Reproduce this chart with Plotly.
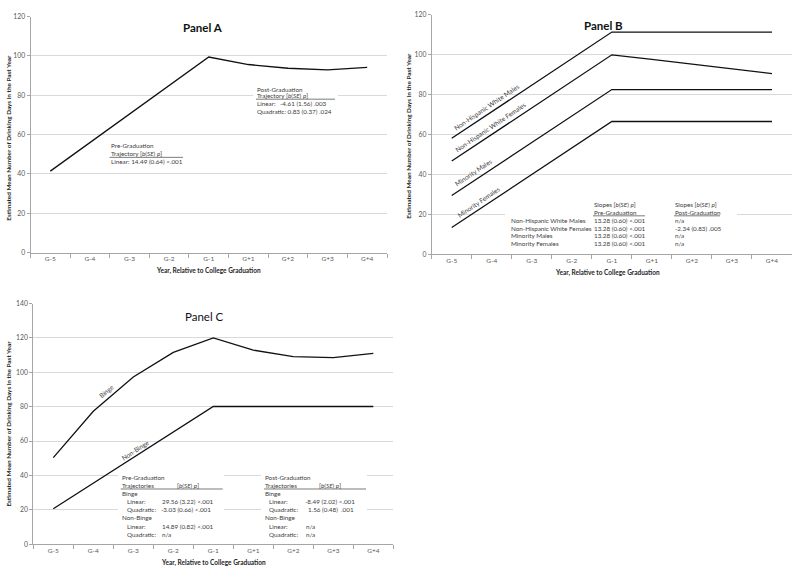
import plotly.graph_objects as go

W, H = 800, 577

years = ["G-5", "G-4", "G-3", "G-2", "G-1", "G+1", "G+2", "G+3", "G+4"]

panel_a = [41.4, 55.9, 70.4, 84.9, 99.4, 95.6, 93.7, 92.9, 94.2]

nhw_males = [58.2, 71.5, 84.8, 98.1, 111.4, 111.4, 111.4, 111.4, 111.4]
nhw_females = [46.8, 60.1, 73.4, 86.7, 100.0, 97.7, 95.3, 93.0, 90.6]
min_males = [29.5, 42.8, 56.1, 69.3, 82.6, 82.6, 82.6, 82.6, 82.6]
min_females = [13.5, 26.8, 40.1, 53.3, 66.6, 66.6, 66.6, 66.6, 66.6]

binge = [50.4, 77.3, 97.3, 111.6, 120.0, 112.9, 109.1, 108.5, 111.0]
non_binge = [20.6, 35.4, 50.3, 65.2, 80.1, 80.1, 80.1, 80.1, 80.1]

y_ticks_ab = [0, 20, 40, 60, 80, 100, 120]
y_ticks_c = [0, 20, 40, 60, 80, 100, 120, 140]

FONT = "Lato"
TXT = "#404040"
TICK = "#595959"
AXIS = "#a6a6a6"
GRID = "#d9d9d9"
SMALL = 6.3


def px(x):
    return x / W


def py(y):
    return (H - y) / H


fig = go.Figure()

line_style = dict(color="#111111", width=1.3)
fig.add_trace(go.Scatter(x=years, y=panel_a, mode="lines", line=line_style,
                         xaxis="x", yaxis="y", showlegend=False))
for s in [nhw_males, nhw_females, min_males, min_females]:
    fig.add_trace(go.Scatter(x=years, y=s, mode="lines", line=line_style,
                             xaxis="x2", yaxis="y2", showlegend=False))
for s in [binge, non_binge]:
    fig.add_trace(go.Scatter(x=years, y=s, mode="lines", line=line_style,
                             xaxis="x3", yaxis="y3", showlegend=False))


def xax(domain, anchor):
    return dict(domain=domain, anchor=anchor, type="category",
                categoryorder="array", categoryarray=years,
                range=[-0.5, 8.5], showline=True, linecolor=AXIS, linewidth=1,
                ticks="outside", tickson="boundaries", ticklen=4,
                tickcolor=AXIS, showgrid=False, zeroline=False,
                tickfont=dict(family=FONT, size=6.5, color=TICK), fixedrange=True)


def yax(domain, anchor, rng, ticks):
    return dict(domain=domain, anchor=anchor, range=rng, tickvals=ticks,
                showline=True, linecolor=AXIS, linewidth=1, ticks="outside",
                ticklen=3, tickcolor=AXIS, showgrid=True, gridcolor=GRID,
                gridwidth=1, zeroline=False,
                tickfont=dict(family=FONT, size=6.8, color=TICK), fixedrange=True)


fig.update_layout(
    width=W, height=H, autosize=False,
    margin=dict(l=0, r=0, t=0, b=0),
    paper_bgcolor="white", plot_bgcolor="white",
    xaxis=xax([px(30.5), px(387)], "y"),
    yaxis=yax([py(251), py(11.7)], "x", [0, 120], y_ticks_ab),
    xaxis2=xax([px(431.7), px(792)], "y2"),
    yaxis2=yax([py(253), py(10)], "x2", [0, 120], y_ticks_ab),
    xaxis3=xax([px(33.3), px(393.3)], "y3"),
    yaxis3=yax([py(546.8), py(302.7)], "x3", [0, 140], y_ticks_c),
)

shapes = []
# white backgrounds of text boxes (hide gridlines)
for (x0, y0, x1, y1) in [(253, 80, 338, 114), (107, 137, 185, 164),
                         (505, 196, 737, 248), (118, 473, 224, 542),
                         (261, 473, 367, 542)]:
    shapes.append(dict(type="rect", xref="paper", yref="paper",
                       x0=px(x0), x1=px(x1), y0=py(y1), y1=py(y0),
                       fillcolor="white", line=dict(width=0), layer="above"))
# underlines
for (x0, x1, y) in [(109.5, 183, 154.5), (256, 335, 95.5), (593, 645, 213.8),
                    (674, 720, 213.8), (120.7, 222.7, 490.8),
                    (264, 366, 490.8)]:
    shapes.append(dict(type="line", xref="paper", yref="paper",
                       x0=px(x0), x1=px(x1), y0=py(y), y1=py(y),
                       line=dict(color="#595959", width=0.8), layer="above"))
fig.update_layout(shapes=shapes)

ann = []


def text(x, y, s, size=SMALL, color=TXT, anchor="left", angle=0, bold=False):
    if bold:
        s = "<b>" + s + "</b>"
    ann.append(dict(x=px(x), y=py(y), xref="paper", yref="paper", text=s,
                    showarrow=False, xanchor=anchor, yanchor="middle",
                    textangle=angle, borderpad=0,
                    font=dict(family=FONT, size=size, color=color)))


BSE = "[<i>b</i>(<i>SE</i>) <i>p</i>]"

# Panel titles
text(203, 23, "Panel A", size=11.5, color="#111111", anchor="center", bold=True)
text(603, 21, "Panel B", size=11.5, color="#111111", anchor="center", bold=True)
text(204, 315.5, "Panel C", size=11.5, color="#111111", anchor="center")

# axis titles
ytitle = "Estimated Mean Number of Drinking Days in the Past Year"
xtitle = "Year, Relative to College Graduation"
text(8.5, 135, ytitle, size=6.4, color="#262626", anchor="center", angle=-90, bold=True)
text(408.5, 133, ytitle, size=6.4, color="#262626", anchor="center", angle=-90, bold=True)
text(8.5, 425, ytitle, size=6.4, color="#262626", anchor="center", angle=-90, bold=True)
text(208, 269.3, xtitle, size=6.5, color="#262626", anchor="center", bold=True)
text(607, 271.7, xtitle, size=6.5, color="#262626", anchor="center", bold=True)
text(213, 566, xtitle, size=6.5, color="#262626", anchor="center", bold=True)

# Panel A text boxes
text(109.5, 142.5, "Pre-Graduation")
text(109.5, 150.5, "Trajectory " + BSE)
text(109.5, 159, "Linear: 14.49 (0.64) <.001")
text(256, 86, "Post-Graduation")
text(256, 92, "Trajectory " + BSE)
text(256, 100.2, "Linear:")
text(279, 100.2, "-4.61 (1.56) .003")
text(256, 108.3, "Quadratic: 0.83 (0.37) .024")

# Panel B line labels
text(486, 103.5, "Non-Hispanic White Males", size=6.5, anchor="center", angle=-34)
text(490, 124, "Non-Hispanic White Females", size=6.5, anchor="center", angle=-34)
text(473.5, 170, "Minority Males", size=6.5, anchor="center", angle=-34)
text(478, 200, "Minority Females", size=6.5, anchor="center", angle=-34)

# Panel B table
text(593, 202.5, "Slopes " + BSE)
text(674, 202.5, "Slopes " + BSE)
text(593, 210.3, "Pre-Graduation")
text(674, 210.3, "Post-Graduation")
rows = ["Non-Hispanic White Males", "Non-Hispanic White Females",
        "Minority Males", "Minority Females"]
pre_vals = ["13.28 (0.60) <.001"] * 4
post_vals = ["n/a", "-2.34 (0.83) .005", "n/a", "n/a"]
for i, (r, a, b) in enumerate(zip(rows, pre_vals, post_vals)):
    yy = 218.5 + i * 7.7
    text(510, yy, r)
    text(593, yy, a)
    text(674, yy, b)

# Panel C line labels
text(106, 391.5, "Binge", size=6.5, anchor="center", angle=-40)
text(135, 452, "Non-Binge", size=6.5, anchor="center", angle=-33)

# Panel C text boxes
rows_y = [479, 487, 495.7, 503.7, 511.7, 520, 528.7, 537]
text(120.7, rows_y[0], "Pre-Graduation")
text(120.7, rows_y[1], "Trajectories")
text(175.7, rows_y[1], BSE)
text(120.7, rows_y[2], "Binge")
text(126, rows_y[3], "Linear:")
text(160.7, rows_y[3], "29.56 (3.22) <.001")
text(126, rows_y[4], "Quadratic:")
text(159.5, rows_y[4], "-3.03 (0.66) <.001")
text(120.7, rows_y[5], "Non-Binge")
text(126, rows_y[6], "Linear:")
text(160.7, rows_y[6], "14.89 (0.82) <.001")
text(126, rows_y[7], "Quadratic:")
text(160.7, rows_y[7], "n/a")

text(264, rows_y[0], "Post-Graduation")
text(264, rows_y[1], "Trajectories")
text(318.3, rows_y[1], BSE)
text(264, rows_y[2], "Binge")
text(268.3, rows_y[3], "Linear:")
text(304, rows_y[3], "-8.49 (2.02) <.001")
text(268.3, rows_y[4], "Quadratic:")
text(306.7, rows_y[4], "1.56 (0.48)  .001")
text(264, rows_y[5], "Non-Binge")
text(268.3, rows_y[6], "Linear:")
text(305, rows_y[6], "n/a")
text(268.3, rows_y[7], "Quadratic:")
text(305, rows_y[7], "n/a")

fig.update_layout(annotations=ann)

fig.write_html("out.html",
               config={"displayModeBar": False},
               post_script="document.body.style.margin='0';"
                           "document.body.style.padding='0';")
